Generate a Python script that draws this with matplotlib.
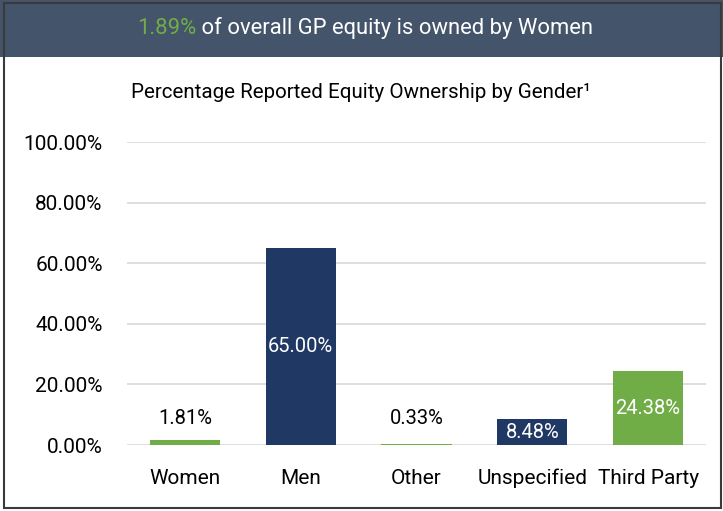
import matplotlib
matplotlib.use("Agg")
import matplotlib.pyplot as plt
from matplotlib.patches import Rectangle

categories = ["Women", "Men", "Other", "Unspecified", "Third Party"]
values = [1.81, 65.00, 0.33, 8.48, 24.38]
bar_colors = ["#70AD47", "#203864", "#70AD47", "#203864", "#70AD47"]
yticks = [0, 20, 40, 60, 80, 100]
headline_value = "1.89%"
headline_rest = " of overall GP equity is owned by Women"
title = "Percentage Reported Equity Ownership by Gender\u00b9"

FONT = ["Roboto", "DejaVu Sans"]
plt.rcParams["font.family"] = FONT

W, H = 723, 511
fig = plt.figure(figsize=(W / 100, H / 100), dpi=100)
fig.patch.set_facecolor("white")

# header band
fig.patches.append(Rectangle((0, 1 - 57 / H), 1, 57 / H, transform=fig.transFigure,
                             facecolor="#44546A", edgecolor="none", zorder=0))
# outer border
fig.patches.append(Rectangle((4 / W, 3 / H), 717 / W, 505 / H, transform=fig.transFigure,
                             facecolor="none", edgecolor="#3a3a3a", linewidth=1.5, zorder=5))

hy = 1 - 28 / H
fig.text(196 / W, hy, headline_value, color="#70AD47", fontsize=15.8, ha="right", va="center")
fig.text(196 / W, hy, headline_rest, color="white", fontsize=15.8, ha="left", va="center")
fig.text(361 / W, 1 - 92 / H, title, color="black", fontsize=14.8, ha="center", va="center")

ax = fig.add_axes([127 / W, 1 - 445 / H, (706 - 127) / W, (445 - 142) / H])
x = range(len(categories))
bars = ax.bar(x, values, width=0.605, color=bar_colors, zorder=3)
ax.set_xlim(-0.5, len(categories) - 0.5)
ax.set_ylim(0, 100)
ax.set_yticks(yticks)
ax.set_yticklabels([f"{v:.2f}%" for v in yticks], fontsize=15)
ax.set_xticks(list(x))
ax.set_xticklabels(categories, fontsize=15)
ax.tick_params(axis="both", length=0)
ax.tick_params(axis="x", pad=17)
ax.tick_params(axis="y", pad=17.5)
ax.grid(axis="y", color="#D9D9D9", linewidth=1.2, zorder=0)
for s in ax.spines.values():
    s.set_visible(False)

small_label_y = 5.5
for xi, v in zip(x, values):
    label = f"{v:.2f}%"
    if v < 5:
        ax.text(xi, small_label_y, label, ha="center", va="bottom", fontsize=14.5, color="black")
    else:
        ax.text(xi, v / 2, label, ha="center", va="center", fontsize=14.5, color="white", zorder=4)

fig.savefig("out.png", dpi=100)
